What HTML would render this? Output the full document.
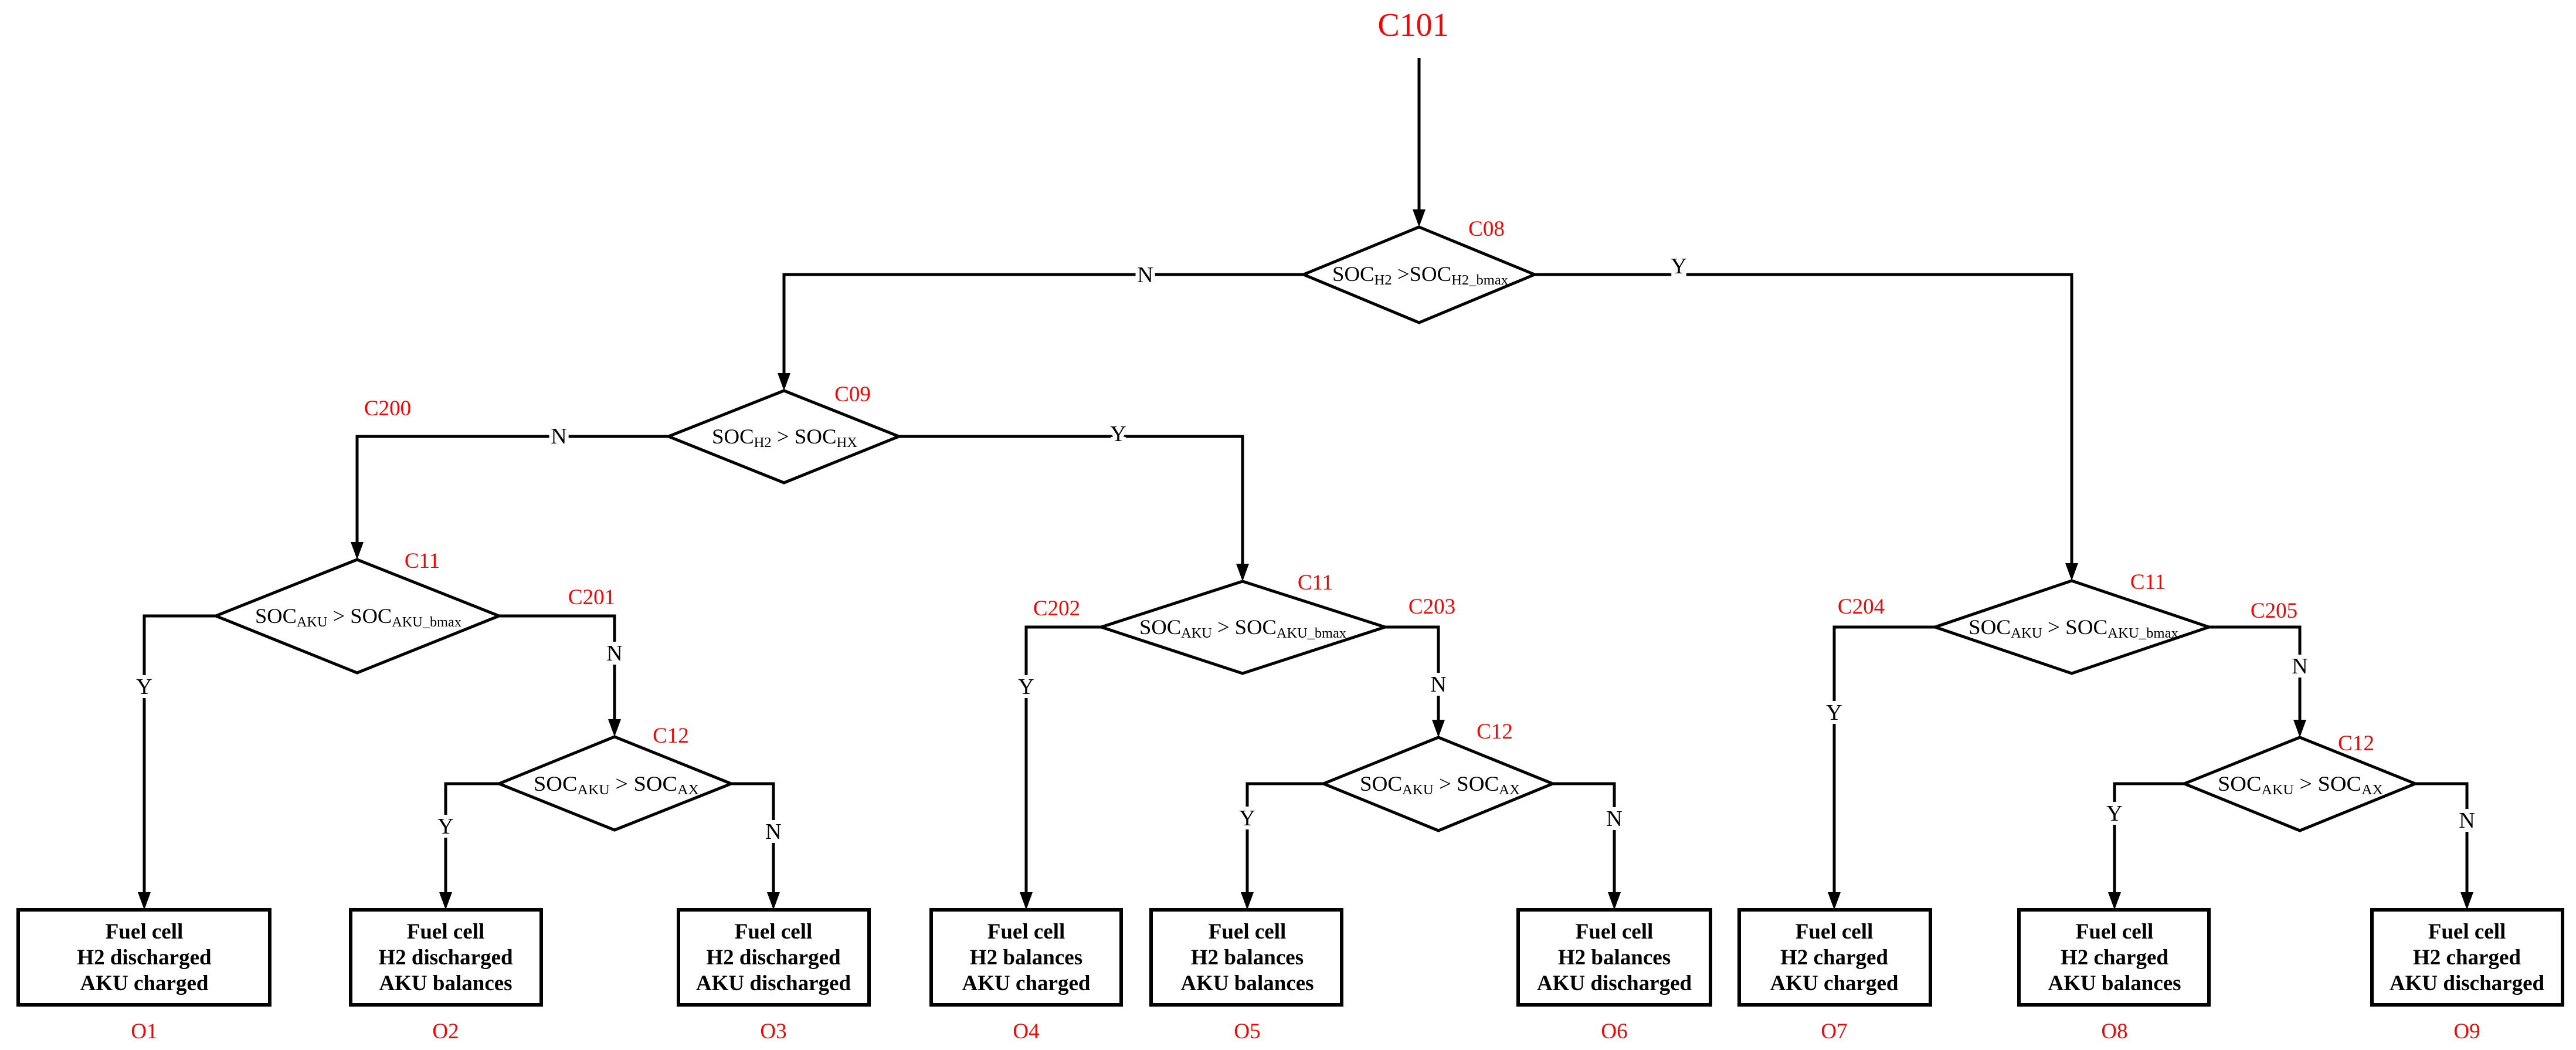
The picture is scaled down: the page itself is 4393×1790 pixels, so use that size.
<!DOCTYPE html>
<html><head><meta charset="utf-8"><style>
html,body{margin:0;padding:0;background:#fff;}
svg{display:block;font-family:"Liberation Serif","Times New Roman",serif;}
text{font-family:"Liberation Serif","Times New Roman",serif;}
.red{fill:#f00;font-size:37px;text-anchor:middle;font-family:"Liberation Serif",serif;}
.yn{font-size:38px;text-anchor:middle;fill:#000;stroke:#fff;stroke-width:14px;paint-order:stroke;font-family:"Liberation Serif",serif;}
.bx text{font-size:37px;font-weight:bold;text-anchor:middle;font-family:"Liberation Serif",serif;}
.d{font-size:36px;font-family:"Liberation Serif",serif;}
.s{font-size:24px;}
</style></head><body>
<svg width="4393" height="1790" viewBox="0 0 4393 1790" xmlns="http://www.w3.org/2000/svg" font-family="Liberation Serif, serif">
<rect width="4393" height="1790" fill="#fff"/>
<g fill="none" stroke="#000" stroke-width="5" stroke-linejoin="miter">
<path d="M2420 99 V380"/>
<path d="M2223 468 H1337 V660"/>
<path d="M2617 468 H3533 V984"/>
<path d="M1140 744 H609 V948"/>
<path d="M1533 744 H2119 V985"/>
<path d="M368 1050 H246 V1545"/>
<path d="M851 1050 H1048 V1250"/>
<path d="M851 1336 H760 V1545"/>
<path d="M1247 1336 H1319 V1545"/>
<path d="M1878 1069 H1750 V1545"/>
<path d="M2362 1069 H2453 V1251"/>
<path d="M2257 1336 H2127 V1545"/>
<path d="M2648 1336 H2753 V1545"/>
<path d="M3300 1069 H3128 V1545"/>
<path d="M3767 1069 H3922 V1251"/>
<path d="M3725 1336 H3606 V1545"/>
<path d="M4119 1336 H4207 V1545"/>
<polygon points="2420,387 2617,468 2420,550 2223,468"/>
<polygon points="1337,666 1533,744 1337,823 1140,744"/>
<polygon points="609,954 851,1050 609,1147 368,1050"/>
<polygon points="1048,1256 1247,1336 1048,1415 851,1336"/>
<polygon points="2119,991 2362,1069 2119,1148 1878,1069"/>
<polygon points="2453,1257 2648,1336 2453,1416 2257,1336"/>
<polygon points="3533,990 3767,1069 3533,1148 3300,1069"/>
<polygon points="3922,1257 4119,1336 3922,1416 3725,1336"/>
<g stroke-width="6">
<rect x="31" y="1551" width="429" height="162"/>
<rect x="598" y="1551" width="325" height="162"/>
<rect x="1157" y="1551" width="325" height="162"/>
<rect x="1588" y="1551" width="324" height="162"/>
<rect x="1963" y="1551" width="325" height="162"/>
<rect x="2589" y="1551" width="328" height="162"/>
<rect x="2966" y="1551" width="326" height="162"/>
<rect x="3443" y="1551" width="324" height="162"/>
<rect x="4045" y="1551" width="325" height="162"/>
</g>
</g>
<g fill="#000">
<polygon points="2409,357 2431,357 2420,387"/>
<polygon points="1326,636 1348,636 1337,666"/>
<polygon points="3522,960 3544,960 3533,990"/>
<polygon points="598,924 620,924 609,954"/>
<polygon points="2108,961 2130,961 2119,991"/>
<polygon points="1037,1226 1059,1226 1048,1256"/>
<polygon points="2442,1227 2464,1227 2453,1257"/>
<polygon points="3911,1227 3933,1227 3922,1257"/>
<polygon points="235,1521 257,1521 246,1551"/>
<polygon points="749,1521 771,1521 760,1551"/>
<polygon points="1308,1521 1330,1521 1319,1551"/>
<polygon points="1739,1521 1761,1521 1750,1551"/>
<polygon points="2116,1521 2138,1521 2127,1551"/>
<polygon points="2742,1521 2764,1521 2753,1551"/>
<polygon points="3117,1521 3139,1521 3128,1551"/>
<polygon points="3595,1521 3617,1521 3606,1551"/>
<polygon points="4196,1521 4218,1521 4207,1551"/>
</g>
<text class="yn" x="1953" y="481">N</text>
<text class="yn" x="2863" y="466">Y</text>
<text class="yn" x="953" y="756">N</text>
<text class="yn" x="1907" y="752">Y</text>
<text class="yn" x="246" y="1183">Y</text>
<text class="yn" x="1048" y="1126">N</text>
<text class="yn" x="760" y="1421">Y</text>
<text class="yn" x="1319" y="1430">N</text>
<text class="yn" x="1750" y="1183">Y</text>
<text class="yn" x="2453" y="1179">N</text>
<text class="yn" x="2127" y="1407">Y</text>
<text class="yn" x="2753" y="1408">N</text>
<text class="yn" x="3128" y="1227">Y</text>
<text class="yn" x="3922" y="1148">N</text>
<text class="yn" x="3606" y="1399">Y</text>
<text class="yn" x="4207" y="1411">N</text>
<text class="red" x="2410" y="61" style="font-size:56px">C101</text>
<text class="red" x="2535" y="402">C08</text>
<text class="red" x="1454" y="684">C09</text>
<text class="red" x="661" y="708">C200</text>
<text class="red" x="720" y="968">C11</text>
<text class="red" x="1009" y="1030">C201</text>
<text class="red" x="1144" y="1266">C12</text>
<text class="red" x="2243" y="1005">C11</text>
<text class="red" x="1802" y="1049">C202</text>
<text class="red" x="2442" y="1046">C203</text>
<text class="red" x="2549" y="1259">C12</text>
<text class="red" x="3663" y="1004">C11</text>
<text class="red" x="3174" y="1046">C204</text>
<text class="red" x="3878" y="1053">C205</text>
<text class="red" x="4018" y="1279">C12</text>
<text class="red" x="246" y="1770">O1</text>
<text class="red" x="760" y="1770">O2</text>
<text class="red" x="1319" y="1770">O3</text>
<text class="red" x="1750" y="1770">O4</text>
<text class="red" x="2127" y="1770">O5</text>
<text class="red" x="2753" y="1770">O6</text>
<text class="red" x="3128" y="1770">O7</text>
<text class="red" x="3606" y="1770">O8</text>
<text class="red" x="4207" y="1770">O9</text>
<text class="d" x="2272" y="479" textLength="300" lengthAdjust="spacingAndGlyphs">SOC<tspan class="s" dy="6">H2</tspan><tspan dy="-6"> &gt;SOC</tspan><tspan class="s" dy="6">H2_bmax</tspan></text>
<text class="d" x="1214" y="756" textLength="248" lengthAdjust="spacingAndGlyphs">SOC<tspan class="s" dy="6">H2</tspan><tspan dy="-6"> &gt; SOC</tspan><tspan class="s" dy="6">HX</tspan></text>
<text class="d" x="435" y="1062" textLength="352" lengthAdjust="spacingAndGlyphs">SOC<tspan class="s" dy="6">AKU</tspan><tspan dy="-6"> &gt; SOC</tspan><tspan class="s" dy="6">AKU_bmax</tspan></text>
<text class="d" x="1943" y="1081" textLength="353" lengthAdjust="spacingAndGlyphs">SOC<tspan class="s" dy="6">AKU</tspan><tspan dy="-6"> &gt; SOC</tspan><tspan class="s" dy="6">AKU_bmax</tspan></text>
<text class="d" x="3357" y="1081" textLength="358" lengthAdjust="spacingAndGlyphs">SOC<tspan class="s" dy="6">AKU</tspan><tspan dy="-6"> &gt; SOC</tspan><tspan class="s" dy="6">AKU_bmax</tspan></text>
<text class="d" x="910" y="1348" textLength="282" lengthAdjust="spacingAndGlyphs">SOC<tspan class="s" dy="6">AKU</tspan><tspan dy="-6"> &gt;  SOC</tspan><tspan class="s" dy="6">AX</tspan></text>
<text class="d" x="2319" y="1348" textLength="273" lengthAdjust="spacingAndGlyphs">SOC<tspan class="s" dy="6">AKU</tspan><tspan dy="-6"> &gt; SOC</tspan><tspan class="s" dy="6">AX</tspan></text>
<text class="d" x="3782" y="1348" textLength="282" lengthAdjust="spacingAndGlyphs">SOC<tspan class="s" dy="6">AKU</tspan><tspan dy="-6"> &gt;  SOC</tspan><tspan class="s" dy="6">AX</tspan></text>
<g class="bx">
<text x="246" y="1600">Fuel cell</text><text x="246" y="1644">H2 discharged</text><text x="246" y="1688">AKU charged</text>
<text x="760" y="1600">Fuel cell</text><text x="760" y="1644">H2 discharged</text><text x="760" y="1688">AKU balances</text>
<text x="1319" y="1600">Fuel cell</text><text x="1319" y="1644">H2 discharged</text><text x="1319" y="1688">AKU discharged</text>
<text x="1750" y="1600">Fuel cell</text><text x="1750" y="1644">H2 balances</text><text x="1750" y="1688">AKU charged</text>
<text x="2127" y="1600">Fuel cell</text><text x="2127" y="1644">H2 balances</text><text x="2127" y="1688">AKU balances</text>
<text x="2753" y="1600">Fuel cell</text><text x="2753" y="1644">H2 balances</text><text x="2753" y="1688">AKU discharged</text>
<text x="3128" y="1600">Fuel cell</text><text x="3128" y="1644">H2 charged</text><text x="3128" y="1688">AKU charged</text>
<text x="3606" y="1600">Fuel cell</text><text x="3606" y="1644">H2 charged</text><text x="3606" y="1688">AKU balances</text>
<text x="4207" y="1600">Fuel cell</text><text x="4207" y="1644">H2 charged</text><text x="4207" y="1688">AKU discharged</text>
</g>
</svg>
</body></html>
